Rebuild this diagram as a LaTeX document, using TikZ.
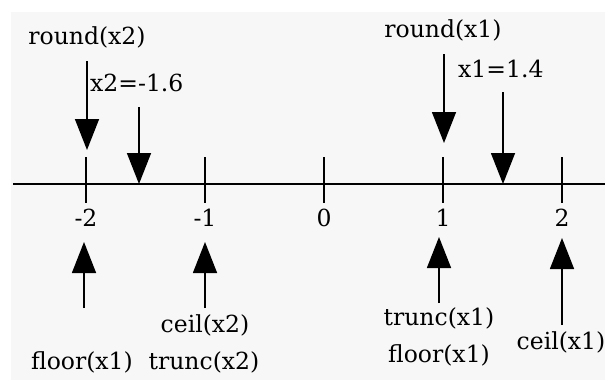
\documentclass[tikz,border=0pt]{standalone}
\usepackage{fontspec}
\setmainfont{DejaVu Serif}
\usetikzlibrary{arrows.meta,positioning}
\definecolor{paper}{HTML}{F7F7F7}
\tikzset{
  lbl/.style={inner sep=0pt, font=\fontsize{23.5}{28}\selectfont},
  axisline/.style={line width=1.6pt},
  tickline/.style={line width=1.5pt},
  pointer/.style={-{Triangle[length=31pt, width=24pt]}, line width=1.5pt},
}
\newcommand{\xpos}[1]{{324+119*(#1)}}

\begin{document}
\begin{tikzpicture}[x=1pt, y=-1pt]
  \useasboundingbox (0,0) rectangle (605,380);
  \fill[paper] (11,12) rectangle (605,380);
  % number line
  \coordinate (axl) at (13,184);
  \coordinate (axr) at (605,184);
  \draw[axisline] (axl) -- (axr);
  \foreach \v [count=\i] in {-2,-1,0,1,2}{
    \coordinate (tt\i) at (\xpos{\v},157);
    \coordinate (tb\i) at (\xpos{\v},203);
    \draw[tickline] (tt\i) -- (tb\i);
    \node[lbl] (num\i) at (\xpos{\v},218) {\v};
  }
  % values and round() from above
  \node[lbl] (roundxtwo) at (87,37) {round(x2)};
  \coordinate (rtwotail) at (87,61);
  \coordinate (rtwotip) at (87,150);
  \draw[pointer] (rtwotail) -- (rtwotip);
  \node[lbl, anchor=west] (xtwo) at (90,83) {x2=-1.6};
  \coordinate (xtwotail) at (139,107);
  \coordinate (xtwotip) at (139,184);
  \draw[pointer] (xtwotail) -- (xtwotip);
  \node[lbl] (roundxone) at (443,30) {round(x1)};
  \coordinate (ronetail) at (444,54);
  \coordinate (ronetip) at (444,143);
  \draw[pointer] (ronetail) -- (ronetip);
  \node[lbl, anchor=west] (xone) at (458,69) {x1=1.4};
  \coordinate (xonetail) at (503,92);
  \coordinate (xonetip) at (503,184);
  \draw[pointer] (xonetail) -- (xonetip);
  % floor, ceil, trunc from below
  \coordinate (amtail) at (84,308);
  \coordinate (amtip) at (84,242);
  \draw[pointer] (amtail) -- (amtip);
  \coordinate (bmtail) at (205,308);
  \coordinate (bmtip) at (205,242);
  \draw[pointer] (bmtail) -- (bmtip);
  \coordinate (aptail) at (439,303);
  \coordinate (aptip) at (439,237);
  \draw[pointer] (aptail) -- (aptip);
  \coordinate (bptail) at (562,325);
  \coordinate (bptip) at (562,238);
  \draw[pointer] (bptail) -- (bptip);
  \node[lbl] (ceilxtwo) at (205,325) {ceil(x2)};
  \node[lbl] (floorxone) at (82,362) {floor(x1)};
  \node[lbl] (truncxtwo) at (204,362) {trunc(x2)};
  \node[lbl] (truncxone) at (439,318) {trunc(x1)};
  \node[lbl] (floorxonb) at (439,355) {floor(x1)};
  \node[lbl] (ceilxone) at (561,342) {ceil(x1)};
\end{tikzpicture}
\end{document}
